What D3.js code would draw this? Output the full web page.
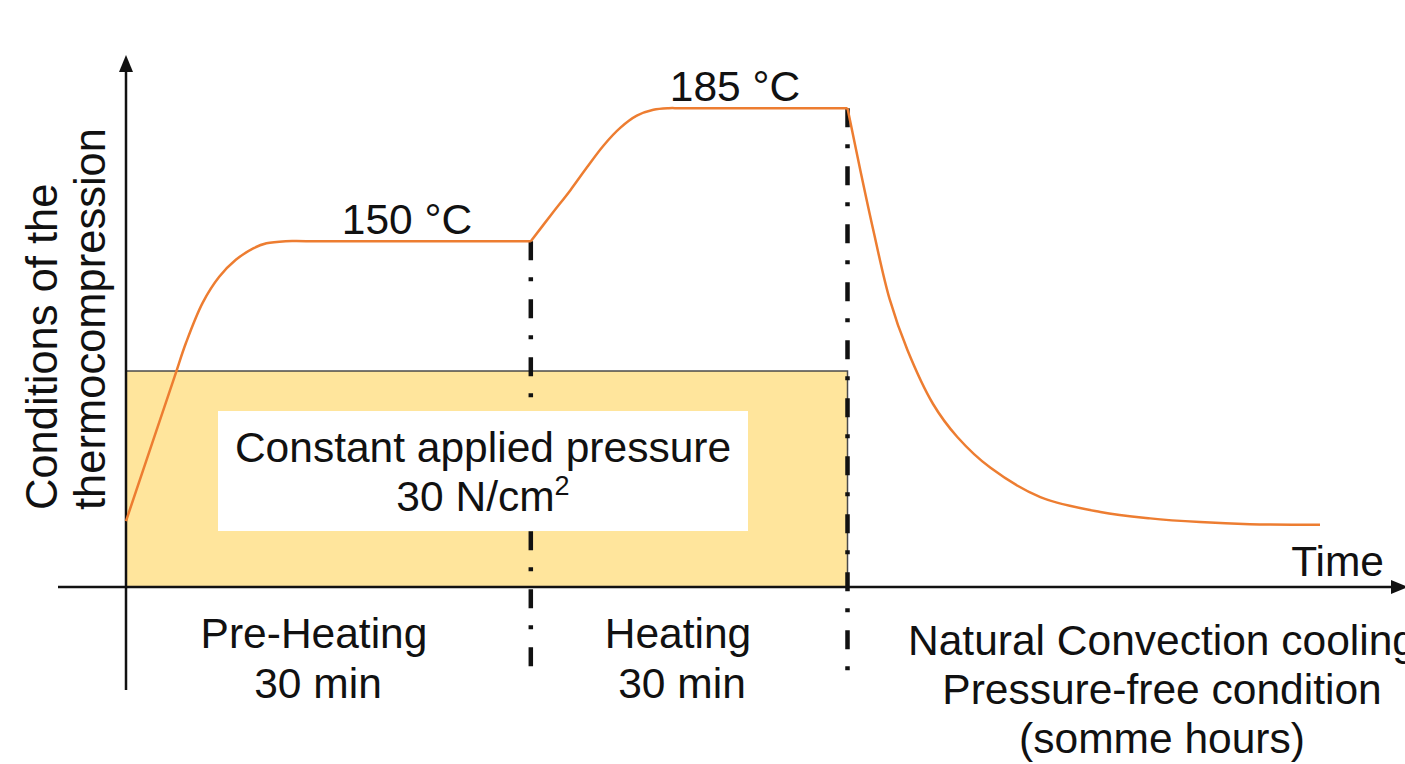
<!DOCTYPE html>
<html>
<head>
<meta charset="utf-8">
<script src="https://cdn.jsdelivr.net/npm/d3@7"></script>
<style>
  html, body { margin: 0; padding: 0; background: #fff; }
  svg { display: block; }
  text { font-family: "Liberation Sans", Arial, sans-serif; fill: #111; }
</style>
</head>
<body>
<svg id="chart" width="1405" height="764"></svg>
<script>
// ---------------- data (time in arbitrary units, condition level in % of axis) ----------------
const phaseNames   = ["Pre-Heating", "Heating"];
const phaseDur     = ["30 min", "30 min"];
const phaseBounds  = [31.7, 56.5];          // ends of pre-heating and heating
const plateauTemps = ["150 °C", "185 °C"];
const plateauLevel = [65, 90];
const coolingText  = ["Natural Convection cooling", "Pressure-free condition", "(somme hours)"];
const pressureText = ["Constant applied pressure", "30 N/cm"];
const pressureLevel = 40.6;
const pressureSpan  = [0, 56.5];

const tempPreheat = [[0,12.4],[3.8,39.5],[4.7,45.9],[6.0,53.4],[7.3,58.3],[8.6,61.5],[10.0,63.7],[11.0,64.6],[12.5,65],[14.1,65],[31.7,65]];
const tempHeating = [[31.7,65],[33.4,70.3],[34.8,74.6],[36.1,78.9],[37.4,83.0],[38.7,86.3],[40.0,88.6],[41.3,89.7],[42.5,90],[43.4,90],[56.5,90]];
const tempCooling = [[56.5,90],[57.5,78.4],[58.5,67.3],[59.8,54.1],[61.2,44.5],[63.2,34.4],[65.1,28.2],[67.7,22.4],[71.6,16.9],[76.3,14.1],[80.2,12.9],[84.1,12.2],[88.0,11.8],[93.5,11.7]];

// ---------------- layout ----------------
const svg = d3.select("#chart");
const x = d3.scaleLinear().domain([0, 100]).range([126, 1403]);
const y = d3.scaleLinear().domain([0, 100]).range([587, 55]);
const FS = 42.5;
const ORANGE = "#ED7D31";

// pressure rectangle
svg.append("rect")
  .attr("x", x(pressureSpan[0])).attr("y", y(pressureLevel))
  .attr("width", x(pressureSpan[1]) - x(pressureSpan[0]))
  .attr("height", y(0) - y(pressureLevel))
  .attr("fill", "#FFE59C").attr("stroke", "#4a4a4a").attr("stroke-width", 1.5);

// dash-dot phase boundaries
phaseBounds.forEach((b, i) => {
  svg.append("line")
    .attr("x1", x(b)).attr("x2", x(b))
    .attr("y1", y(plateauLevel[i])).attr("y2", i === 0 ? 672 : 684)
    .attr("stroke", "#111").attr("stroke-width", 4.5)
    .attr("stroke-dasharray", "19,17,4,18");
});

// white box with pressure text (covers the boundary line)
const boxCx = 483;
svg.append("rect").attr("x", 218).attr("y", 411).attr("width", 530).attr("height", 120).attr("fill", "#fff");

// axes
const axisG = svg.append("g");
axisG.append("line").attr("x1", x(0)).attr("x2", x(0)).attr("y1", 690).attr("y2", 70)
  .attr("stroke", "#111").attr("stroke-width", 2.5);
axisG.append("path").attr("d", `M${x(0)},${y(100)} L${x(0)-7},${y(100)+17} L${x(0)+7},${y(100)+17} Z`).attr("fill", "#111");
axisG.append("line").attr("x1", 58).attr("x2", 1392).attr("y1", y(0)).attr("y2", y(0))
  .attr("stroke", "#111").attr("stroke-width", 2.5);
axisG.append("path").attr("d", `M1408,${y(0)} L1391,${y(0)-7} L1391,${y(0)+7} Z`).attr("fill", "#111");

// temperature curve
const line = d3.line().x(d => x(d[0])).y(d => y(d[1])).curve(d3.curveCatmullRom.alpha(0.5));
[tempPreheat, tempHeating, tempCooling].forEach(seg => {
  svg.append("path").attr("d", line(seg)).attr("fill", "none")
    .attr("stroke", ORANGE).attr("stroke-width", 2.5).attr("stroke-linejoin", "round");
});

// plateau labels
const tempLabelX = [407, 735];
plateauTemps.forEach((t, i) => {
  svg.append("text").attr("x", tempLabelX[i]).attr("y", y(plateauLevel[i]) - 7)
    .attr("text-anchor", "middle").attr("font-size", FS).text(t);
});

// pressure text
svg.append("text").attr("x", boxCx).attr("y", 462).attr("text-anchor", "middle")
  .attr("font-size", FS).text(pressureText[0]);
const pt = svg.append("text").attr("x", boxCx).attr("y", 511).attr("text-anchor", "middle").attr("font-size", FS);
pt.append("tspan").text(pressureText[1]);
pt.append("tspan").attr("font-size", 27).attr("dy", -16).text("2");

// Time label
svg.append("text").attr("x", 1384).attr("y", 576).attr("text-anchor", "end").attr("font-size", FS).text("Time");

// phase labels
const phaseCx = [314, 678];
phaseNames.forEach((p, i) => {
  svg.append("text").attr("x", phaseCx[i]).attr("y", 648).attr("text-anchor", "middle").attr("font-size", FS).text(p);
  svg.append("text").attr("x", phaseCx[i] + 4).attr("y", 698).attr("text-anchor", "middle").attr("font-size", FS).text(phaseDur[i]);
});

// cooling labels
coolingText.forEach((t, i) => {
  svg.append("text").attr("x", 1162).attr("y", 655 + i * 49).attr("text-anchor", "middle")
    .attr("font-size", FS).text(t);
});

// y-axis label
const yl = svg.append("g").attr("transform", "translate(0,510) rotate(-90)");
yl.append("text").attr("x", 0).attr("y", 57).attr("font-size", 43.5).text("Conditions of the");
yl.append("text").attr("x", 0).attr("y", 105).attr("font-size", 43.5).text("thermocompression");
</script>
</body>
</html>
